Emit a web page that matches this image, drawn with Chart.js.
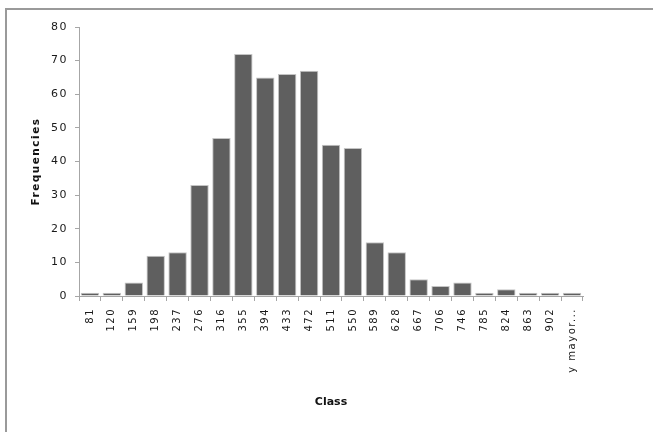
<!DOCTYPE html>
<html>
<head>
<meta charset="utf-8">
<script src="https://cdn.jsdelivr.net/npm/chart.js@4/dist/chart.umd.min.js"></script>
<style>
  html, body { margin: 0; padding: 0; background: #fff; overflow: hidden; }
  #frame { position: absolute; left: 5px; top: 8px; width: 700px; height: 500px;
           border-top: 2px solid #9a9a9a; border-left: 2px solid #9a9a9a; }
  #wrap { position: absolute; left: 0; top: 0; width: 653px; height: 432px; }
</style>
</head>
<body>
<div id="frame"></div>
<div id="wrap"><canvas id="c" width="653" height="432"></canvas></div>
<script>
// Histogram bins (upper class limits) and their counts
const classes = ['81', '120', '159', '198', '237', '276', '316', '355', '394', '433', '472',
                 '511', '550', '589', '628', '667', '706', '746', '785', '824', '863', '902', 'y mayor...'];
const frequencies = [1, 1, 4, 12, 13, 33, 47, 72, 65, 66, 67,
                     45, 44, 16, 13, 5, 3, 4, 1, 2, 1, 1, 1];
const yTicks = [0, 10, 20, 30, 40, 50, 60, 70, 80];

const axisGray = '#a6a6a6';
const SPACING = '1.5px';

// Slightly spaced-out lettering for axis text; the x title stays compact
const spacedText = {
  id: 'spacedText',
  beforeLayout(chart) { chart.ctx.letterSpacing = SPACING; },
  afterLayout(chart) {
    const xs = chart.scales.x;
    if (!xs._compactTitle) {
      const base = xs.drawTitle;
      xs.drawTitle = function () {
        const ctx = this.ctx;
        ctx.letterSpacing = '0px';
        base.call(this);
        ctx.letterSpacing = SPACING;
      };
      xs._compactTitle = true;
    }
  },
  beforeDraw(chart) { chart.ctx.letterSpacing = SPACING; }
};

new Chart(document.getElementById('c'), {
  type: 'bar',
  plugins: [spacedText],
  data: {
    labels: classes,
    datasets: [{
      label: 'Frequencies',
      data: frequencies,
      backgroundColor: '#5f5f5f',
      borderColor: '#c4c4c4',
      borderWidth: 1,
      barPercentage: 0.84,
      categoryPercentage: 1.0
    }]
  },
  options: {
    responsive: false,
    animation: false,
    devicePixelRatio: 1,
    layout: { padding: { left: 0, top: 27, right: 70, bottom: 0 } },
    plugins: { legend: { display: false }, tooltip: { enabled: false } },
    scales: {
      x: {
        grid: { offset: true, drawOnChartArea: false, drawTicks: true, tickLength: 5, color: axisGray },
        border: { display: true, color: axisGray },
        ticks: {
          minRotation: 90, maxRotation: 90, autoSkip: false, padding: 7,
          color: '#1a1a1a', font: { family: 'DejaVu Sans', size: 10 }
        },
        title: {
          display: true, text: 'Class', color: '#111',
          font: { family: 'DejaVu Sans', size: 11, weight: 'bold' },
          padding: { top: 0, bottom: 23 }
        },
        afterFit: (s) => { s.height = 136; }
      },
      y: {
        min: 0, max: 80,
        afterBuildTicks: (s) => { s.ticks = yTicks.map(v => ({ value: v })); },
        grid: { drawOnChartArea: false, drawTicks: true, tickLength: 4, color: axisGray },
        border: { display: true, color: axisGray },
        ticks: { padding: 7, color: '#1a1a1a', font: { family: 'DejaVu Sans', size: 11 } },
        title: {
          display: true, text: 'Frequencies', color: '#111',
          font: { family: 'DejaVu Sans', size: 10.5, weight: 'bold' },
          padding: { top: 30, bottom: 0 }
        },
        afterFit: (s) => { s.width = 79; }
      }
    }
  }
});
</script>
</body>
</html>
